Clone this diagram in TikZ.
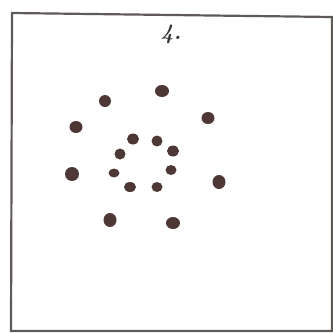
\documentclass[tikz,border=0pt]{standalone}
\begin{document}
\begin{tikzpicture}[x=1pt,y=-1pt,
  dotc/.style={fill={rgb,255:red,78;green,56;blue,54}, draw=none},
  frame/.style={draw={rgb,255:red,95;green,90;blue,88}, line width=2.2pt}]
\useasboundingbox (0,0) rectangle (333,333);
\fill[white] (0,0) rectangle (333,333);
\draw[frame] (12,13) -- (332,17) -- (332,331) -- (11,331) -- cycle;
\node[font=\fontsize{22}{24}\selectfont\bfseries\itshape, text={rgb,255:red,55;green,50;blue,50}] (lbl) at (171,34) {4.};
% outer ring
\fill[dotc] (162,91) ellipse (7pt and 6pt);
\fill[dotc] (105,101) ellipse (6pt and 6pt);
\fill[dotc] (76,127) ellipse (6.5pt and 6pt);
\fill[dotc] (208,118) ellipse (6.5pt and 6pt);
\fill[dotc] (72,174) ellipse (7pt and 7pt);
\fill[dotc] (219,182) ellipse (6.5pt and 7pt);
\fill[dotc] (110,220) ellipse (6.5pt and 7pt);
\fill[dotc] (173,223) ellipse (7pt and 6pt);
% inner ring
\fill[dotc] (133,139) ellipse (6pt and 5.5pt);
\fill[dotc] (157,141) ellipse (5.5pt and 5.5pt);
\fill[dotc] (173,151) ellipse (6pt and 5.5pt);
\fill[dotc] (120,154) ellipse (5.5pt and 5.5pt);
\fill[dotc] (114,173) ellipse (5.5pt and 4.5pt);
\fill[dotc] (171,170) ellipse (5.5pt and 5pt);
\fill[dotc] (130,187) ellipse (6pt and 5pt);
\fill[dotc] (157,187) ellipse (5.5pt and 5pt);
\end{tikzpicture}
\end{document}
